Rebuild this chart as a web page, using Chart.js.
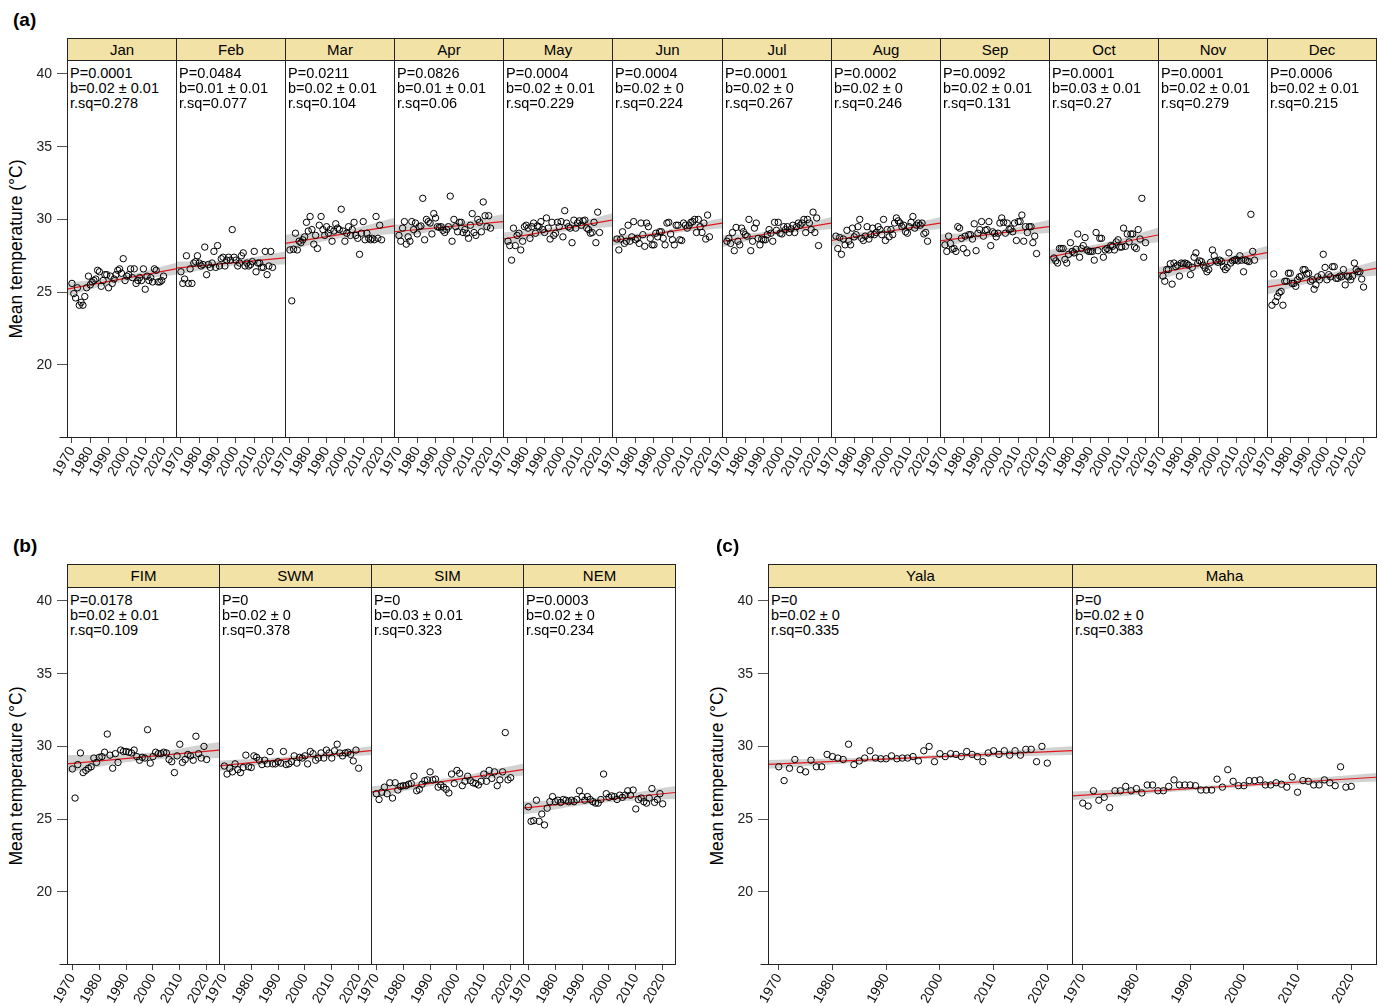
<!DOCTYPE html>
<html lang="en">
<head>
<meta charset="UTF-8">
<title>Mean temperature trends</title>
<script src="https://cdn.jsdelivr.net/npm/chart.js"></script>
<style>
  body { margin: 0; width: 1384px; height: 1006px; overflow: hidden; background: #fff;
         position: relative; font-family: Arial, "Liberation Sans", sans-serif; color: #000; }
  .strip { position: absolute; box-sizing: border-box; background: #f2e2a6; border: 1px solid #222;
           text-align: center; font-size: 15px; }
  .stats { position: absolute; font-size: 14.5px; line-height: 15px; white-space: nowrap; }
  .letter { position: absolute; font-size: 19px; font-weight: bold; line-height: 20px; }
  .ytitle { position: absolute; font-size: 17.5px; white-space: nowrap;
            transform: translate(-50%, -50%) rotate(-90deg); }
  .panel { position: absolute; }
</style>
</head>
<body>
<script>
// years of record and axis ticks
const years = [1970, 1971, 1972, 1973, 1974, 1975, 1976, 1977, 1978, 1979,
               1980, 1981, 1982, 1983, 1984, 1985, 1986, 1987, 1988, 1989,
               1990, 1991, 1992, 1993, 1994, 1995, 1996, 1997, 1998, 1999,
               2000, 2001, 2002, 2003, 2004, 2005, 2006, 2007, 2008, 2009,
               2010, 2011, 2012, 2013, 2014, 2015, 2016, 2017, 2018, 2019, 2020];
const yearTicks = [1970, 1980, 1990, 2000, 2010, 2020];
const tempTicks = [20, 25, 30, 35, 40];

// monthly mean temperature (°C)
const janTemp = [25.6, 24.9, 24.6, 25.3, 24.1, 24.3, 24.1, 24.7, 25.3, 26.1, 25.5, 25.7, 25.8, 25.9, 26.5, 26.4, 25.4, 25.8, 26.2, 26.2, 25.3, 26.1, 25.6, 25.9, 26.2, 26.5, 26.6, 26.3, 27.3, 25.8, 26.1, 26.2, 26.6, 26.0, 26.6, 25.6, 25.8, 26.0, 25.8, 26.6, 25.2, 26.1, 25.8, 26.0, 25.7, 26.6, 26.5, 25.7, 25.7, 25.8, 26.1];
const febTemp = [26.4, 25.6, 25.9, 27.5, 25.6, 26.6, 25.6, 27.0, 27.1, 27.5, 27.0, 26.8, 26.9, 28.1, 26.2, 26.9, 26.7, 27.0, 27.8, 26.7, 28.2, 26.8, 27.3, 27.4, 26.8, 27.2, 27.4, 27.2, 29.3, 27.4, 27.2, 26.8, 27.0, 27.5, 27.7, 26.8, 27.0, 26.8, 26.9, 27.1, 27.8, 26.4, 27.0, 27.0, 26.7, 26.7, 27.8, 26.2, 26.8, 27.8, 26.7];
const marTemp = [27.9, 24.4, 27.95, 29.05, 27.9, 28.5, 28.4, 28.6, 28.8, 29.8, 29.2, 30.2, 29.3, 28.3, 28.9, 28.0, 29.6, 30.2, 29.3, 28.9, 29.5, 29.05, 29.3, 28.5, 29.2, 29.7, 29.4, 29.3, 30.7, 29.2, 28.5, 29.05, 29.5, 28.9, 29.3, 29.8, 28.9, 28.7, 27.6, 29.05, 29.85, 28.6, 29.05, 28.7, 28.6, 28.7, 28.6, 30.2, 28.7, 29.6, 28.6];
const aprTemp = [28.9, 28.5, 29.4, 29.85, 28.3, 28.8, 28.5, 29.85, 29.3, 29.75, 29.0, 29.5, 29.55, 31.45, 28.6, 30.0, 29.85, 29.75, 29.0, 30.4, 30.1, 29.5, 29.45, 29.5, 29.25, 29.1, 29.3, 29.5, 31.6, 28.5, 30.0, 29.5, 29.15, 29.8, 29.8, 29.1, 29.3, 29.05, 28.7, 29.6, 30.4, 29.1, 28.9, 30.0, 29.8, 29.15, 31.2, 30.25, 29.5, 30.25, 29.4];
const mayTemp = [28.5, 28.2, 27.2, 29.4, 28.2, 28.9, 29.05, 27.9, 28.5, 29.5, 29.6, 29.4, 28.7, 29.5, 29.75, 29.05, 29.55, 29.5, 29.85, 29.3, 29.1, 30.1, 29.4, 28.65, 29.8, 28.9, 29.05, 29.8, 29.5, 29.85, 28.8, 30.6, 29.75, 29.5, 29.4, 28.4, 29.95, 29.4, 29.75, 29.9, 29.6, 29.9, 29.95, 29.4, 29.3, 29.05, 29.1, 29.8, 28.4, 30.5, 29.1];
const junTemp = [28.65, 27.9, 28.65, 29.15, 28.35, 28.5, 29.6, 28.5, 28.8, 29.85, 28.6, 28.7, 28.35, 29.75, 28.95, 28.15, 29.75, 29.5, 28.7, 28.25, 28.25, 29.05, 28.8, 29.15, 29.15, 28.7, 28.25, 29.75, 29.8, 29.0, 28.6, 28.25, 29.6, 29.6, 28.6, 28.55, 29.75, 29.6, 29.4, 29.6, 29.8, 29.85, 30.0, 29.1, 30.0, 29.5, 29.1, 29.75, 28.65, 30.3, 28.8];
const julTemp = [28.5, 28.7, 28.35, 29.1, 27.85, 29.45, 28.5, 28.25, 29.4, 29.15, 28.95, 28.85, 30.0, 27.85, 28.5, 29.4, 29.75, 28.7, 28.25, 28.65, 28.6, 28.6, 28.95, 29.3, 29.05, 28.5, 29.8, 29.25, 29.8, 29.05, 29.0, 29.5, 29.3, 29.5, 29.1, 29.35, 29.6, 29.1, 29.5, 29.75, 29.6, 29.75, 30.0, 29.1, 30.0, 29.75, 29.3, 30.5, 29.1, 30.1, 28.2];
const augTemp = [28.85, 28.0, 28.75, 27.6, 28.65, 28.25, 29.25, 28.5, 28.25, 29.4, 28.8, 28.95, 29.5, 30.0, 28.7, 28.55, 28.85, 29.5, 28.65, 28.95, 29.4, 28.95, 29.1, 29.5, 29.3, 28.95, 30.0, 28.55, 29.3, 28.8, 29.3, 28.95, 29.75, 30.1, 29.9, 29.75, 29.5, 29.6, 29.15, 29.05, 29.5, 29.8, 30.2, 29.4, 29.6, 29.75, 29.6, 29.75, 29.0, 29.1, 28.5];
const sepTemp = [28.25, 27.8, 28.85, 28.35, 27.95, 28.0, 27.8, 29.5, 29.4, 28.7, 28.0, 28.85, 27.7, 28.95, 28.95, 28.65, 29.7, 27.85, 29.05, 29.3, 29.85, 28.85, 29.25, 29.3, 29.85, 28.2, 29.15, 29.05, 28.8, 29.05, 29.75, 30.1, 29.8, 29.05, 29.75, 29.3, 29.35, 29.15, 29.75, 28.55, 29.85, 29.85, 30.3, 28.5, 29.5, 29.1, 29.5, 29.5, 28.4, 28.85, 27.65];
const octTemp = [27.35, 27.15, 27.0, 28.0, 28.0, 28.0, 27.25, 27.0, 27.6, 28.4, 27.8, 27.7, 27.95, 29.0, 27.4, 28.0, 28.2, 28.75, 27.9, 27.8, 27.8, 27.8, 27.2, 29.1, 27.85, 28.7, 28.7, 27.4, 27.9, 28.0, 27.9, 28.2, 28.15, 27.9, 28.45, 28.6, 28.1, 28.1, 29.4, 28.15, 29.0, 28.45, 29.0, 29.0, 28.1, 28.0, 29.3, 28.65, 31.45, 27.4, 28.4];
const novTemp = [26.1, 25.75, 26.55, 26.55, 26.95, 25.55, 27.0, 26.75, 26.85, 26.1, 27.0, 26.95, 27.0, 26.95, 26.85, 26.2, 26.7, 27.4, 27.7, 27.0, 27.15, 27.1, 26.85, 26.65, 26.4, 26.55, 27.05, 27.9, 27.5, 27.15, 27.05, 27.2, 27.1, 26.75, 26.55, 26.7, 27.7, 27.0, 27.15, 27.2, 27.25, 27.15, 27.5, 27.2, 26.4, 27.2, 27.15, 27.1, 30.35, 27.8, 27.2];
const decTemp = [24.1, 26.25, 24.35, 24.7, 24.95, 25.05, 24.1, 25.75, 25.75, 26.3, 26.3, 25.6, 25.6, 25.4, 25.85, 26.05, 26.1, 26.55, 26.55, 26.25, 26.3, 25.75, 25.85, 25.2, 25.5, 26.05, 25.85, 26.2, 27.6, 26.7, 25.85, 26.2, 26.05, 26.75, 26.75, 25.95, 25.95, 26.1, 26.05, 26.55, 25.5, 26.1, 26.05, 25.85, 26.1, 27.0, 26.55, 26.4, 26.4, 25.9, 25.35];

// monsoon seasons
const fimTemp = [28.45, 26.45, 28.75, 29.55, 28.2, 28.35, 28.5, 28.6, 29.2, 28.9, 29.25, 29.3, 29.6, 30.85, 29.4, 28.5, 29.5, 28.9, 29.75, 29.65, 29.65, 29.6, 29.55, 29.75, 29.3, 29.05, 29.25, 29.2, 31.15, 28.85, 29.3, 29.6, 29.5, 29.5, 29.6, 29.55, 29.1, 28.95, 28.2, 29.35, 30.15, 28.9, 29.1, 29.45, 29.35, 29.05, 30.7, 29.5, 29.2, 30.0, 29.1];
const swmTemp = [28.65, 28.1, 28.5, 28.25, 28.8, 28.4, 28.2, 28.55, 29.4, 28.6, 28.55, 29.35, 29.25, 29.05, 28.75, 29.05, 28.8, 29.65, 28.8, 28.8, 28.95, 28.85, 29.65, 28.75, 28.8, 28.95, 29.35, 28.85, 29.25, 29.2, 29.35, 28.8, 29.65, 29.5, 29.05, 29.2, 29.55, 29.2, 29.75, 29.55, 29.2, 29.7, 30.15, 29.55, 29.35, 29.55, 29.6, 29.45, 29.0, 29.75, 28.5];
const simTemp = [26.75, 26.35, 26.85, 27.2, 26.75, 27.5, 26.45, 27.5, 27.0, 27.25, 27.3, 27.3, 27.4, 27.45, 27.95, 26.95, 27.05, 27.4, 27.65, 27.7, 28.25, 27.7, 27.75, 27.2, 27.35, 27.2, 27.05, 26.8, 28.1, 27.45, 28.35, 28.15, 27.3, 27.6, 27.95, 27.65, 27.5, 27.45, 27.35, 27.6, 28.1, 27.6, 28.35, 27.8, 28.25, 27.3, 27.7, 28.25, 30.95, 27.7, 27.85];
const nemTemp = [25.85, 24.85, 24.9, 26.3, 24.85, 25.35, 24.6, 25.75, 26.2, 26.55, 26.2, 26.3, 26.15, 26.35, 26.3, 26.2, 26.3, 26.2, 26.35, 26.95, 26.55, 26.3, 26.55, 26.35, 26.2, 26.1, 26.1, 26.35, 28.1, 26.75, 26.5, 26.6, 26.55, 26.35, 26.65, 26.5, 26.65, 26.95, 26.65, 27.0, 25.7, 26.35, 26.45, 26.2, 26.1, 26.45, 27.1, 26.15, 26.35, 26.75, 26.05];

// cultivation seasons
const yalaTemp = [28.6, 27.65, 28.5, 29.1, 28.4, 28.25, 29.05, 28.6, 28.6, 29.45, 29.3, 29.2, 29.1, 30.15, 28.75, 29.0, 29.2, 29.7, 29.2, 29.15, 29.15, 29.35, 29.15, 29.2, 29.2, 29.3, 29.0, 29.7, 30.0, 28.95, 29.5, 29.3, 29.5, 29.45, 29.3, 29.65, 29.45, 29.3, 28.95, 29.55, 29.7, 29.45, 29.7, 29.4, 29.7, 29.4, 29.8, 29.8, 28.95, 30.0, 28.85];
const mahaTemp = [26.1, 25.9, 26.95, 26.3, 26.5, 25.8, 26.95, 26.95, 27.25, 26.95, 27.1, 26.8, 27.35, 27.35, 26.95, 26.95, 27.25, 27.7, 27.35, 27.35, 27.35, 27.3, 27.0, 27.0, 27.0, 27.75, 27.2, 28.4, 27.6, 27.3, 27.3, 27.65, 27.65, 27.7, 27.35, 27.35, 27.5, 27.4, 27.2, 27.9, 26.85, 27.65, 27.6, 27.35, 27.35, 27.7, 27.5, 27.3, 28.6, 27.2, 27.25];

// panel names and regression summaries
const monthNames = ['Jan', 'Feb', 'Mar', 'Apr', 'May', 'Jun', 'Jul', 'Aug', 'Sep', 'Oct', 'Nov', 'Dec'];
const monthP = ['0.0001', '0.0484', '0.0211', '0.0826', '0.0004', '0.0004', '0.0001', '0.0002', '0.0092', '0.0001', '0.0001', '0.0006'];
const monthB = ['0.02', '0.01', '0.02', '0.01', '0.02', '0.02', '0.02', '0.02', '0.02', '0.03', '0.02', '0.02'];
const monthBse = ['0.01', '0.01', '0.01', '0.01', '0.01', '0', '0', '0', '0.01', '0.01', '0.01', '0.01'];
const monthRsq = ['0.278', '0.077', '0.104', '0.06', '0.229', '0.224', '0.267', '0.246', '0.131', '0.27', '0.279', '0.215'];
// fitted value at the left and right edge of each panel, and CI half width (left, centre, right)
const monthFitStart = [25.2, 26.65, 28.35, 29.15, 28.65, 28.52, 28.48, 28.55, 28.52, 27.4, 26.3, 25.34];
const monthFitEnd = [26.6, 27.35, 29.55, 29.85, 29.95, 29.74, 29.74, 29.74, 29.51, 28.93, 27.72, 26.64];
const monthBand = [[0.45, 0.2, 0.4], [0.45, 0.2, 0.45], [0.6, 0.25, 0.55], [0.5, 0.2, 0.5],
                   [0.45, 0.2, 0.45], [0.35, 0.15, 0.35], [0.4, 0.17, 0.4], [0.4, 0.17, 0.4],
                   [0.45, 0.2, 0.45], [0.5, 0.22, 0.5], [0.45, 0.2, 0.45], [0.5, 0.22, 0.5]];

const seasonNames = ['FIM', 'SWM', 'SIM', 'NEM'];
const seasonP = ['0.0178', '0', '0', '0.0003'];
const seasonB = ['0.02', '0.02', '0.03', '0.02'];
const seasonBse = ['0.01', '0', '0.01', '0'];
const seasonRsq = ['0.109', '0.378', '0.323', '0.234'];
const seasonFitStart = [28.8, 28.66, 26.85, 25.75];
const seasonFitEnd = [29.75, 29.71, 28.4, 26.83];
const seasonBand = [[0.6, 0.25, 0.55], [0.35, 0.15, 0.3], [0.4, 0.18, 0.4], [0.45, 0.2, 0.45]];

const cropNames = ['Yala', 'Maha'];
const cropP = ['0', '0'];
const cropB = ['0.02', '0.02'];
const cropBse = ['0', '0'];
const cropRsq = ['0.335', '0.383'];
const cropFitStart = [28.77, 26.6];
const cropFitEnd = [29.71, 27.88];
const cropBand = [[0.3, 0.12, 0.3], [0.3, 0.12, 0.3]];

// box around each plot region, plus the short stub of the x axis line left of the first panel
const framePlugin = {
  id: 'frame',
  afterDraw(chart, args, opts) {
    const { ctx, chartArea: a } = chart;
    ctx.save();
    ctx.strokeStyle = '#222';
    ctx.lineWidth = 1;
    const l = Math.round(a.left) + 0.5, t = Math.round(a.top) + 0.5;
    const w = Math.round(a.right) - Math.round(a.left), h = Math.round(a.bottom) - Math.round(a.top);
    ctx.strokeRect(l, t, w, h);
    if (opts.stub) {
      ctx.beginPath();
      ctx.moveTo(l - opts.stub, t + h);
      ctx.lineTo(l, t + h);
      ctx.stroke();
    }
    ctx.restore();
  }
};

function addDiv(cls, left, top, html, extra) {
  const d = document.createElement('div');
  d.className = cls;
  d.style.left = left + 'px';
  d.style.top = top + 'px';
  d.innerHTML = html;
  if (extra) Object.assign(d.style, extra);
  document.body.appendChild(d);
  return d;
}

const Y_AXIS_W = 67, X_AXIS_H = 52, PAD_L = 30, PAD_R = 2, PAD_T = 2;

function drawGroup(g) {
  const n = g.names.length;
  const step = (g.right - g.left) / n;
  const plotH = g.plotBottom - g.plotTop;
  const xMid = (g.xMin + g.xMax) / 2;

  addDiv('letter', g.letterX, g.stripTop - 28, g.letter);
  addDiv('ytitle', g.left - 51, (g.plotTop + g.plotBottom) / 2, 'Mean temperature (°C)');

  for (let i = 0; i < n; i++) {
    const x0 = Math.round(g.left + i * step);
    const x1 = Math.round(g.left + (i + 1) * step);
    const w = x1 - x0;
    const first = i === 0;

    addDiv('strip', x0, g.stripTop, g.names[i], {
      width: (w + 1) + 'px', height: (g.plotTop - g.stripTop + 1) + 'px',
      lineHeight: (g.plotTop - g.stripTop - 1) + 'px'
    });
    addDiv('stats', x0 + 3, g.statsTop,
      'P=' + g.p[i] + '<br>b=' + g.b[i] + ' ± ' + g.bse[i] + '<br>r.sq=' + g.rsq[i]);

    const leftSpace = first ? Y_AXIS_W : PAD_L;
    const cw = leftSpace + w + PAD_R;
    const ch = PAD_T + plotH + X_AXIS_H;
    const holder = document.createElement('div');
    holder.className = 'panel';
    holder.style.left = (x0 - leftSpace) + 'px';
    holder.style.top = (g.plotTop - PAD_T) + 'px';
    holder.style.width = cw + 'px';
    holder.style.height = ch + 'px';
    const canvas = document.createElement('canvas');
    canvas.width = cw;
    canvas.height = ch;
    holder.appendChild(canvas);
    document.body.appendChild(holder);

    const vals = g.temps[i];
    const fs = g.fitStart[i], fe = g.fitEnd[i], band = g.band[i];
    const fm = (fs + fe) / 2;

    new Chart(canvas, {
      data: {
        datasets: [
          {
            type: 'scatter',
            data: years.map((yr, k) => ({ x: yr, y: vals[k] })),
            pointRadius: 3.2,
            pointBorderWidth: 1,
            pointBorderColor: '#000',
            pointBackgroundColor: 'rgba(0,0,0,0)'
          },
          {
            type: 'line',
            data: [{ x: g.xMin, y: fs }, { x: g.xMax, y: fe }],
            borderColor: '#e4161b',
            borderWidth: 1.2,
            pointRadius: 0
          },
          {
            type: 'line',
            data: [{ x: g.xMin, y: fs + band[0] }, { x: xMid, y: fm + band[1] }, { x: g.xMax, y: fe + band[2] }],
            borderWidth: 0,
            pointRadius: 0,
            tension: 0.45,
            fill: '+1',
            backgroundColor: '#d2d2d2'
          },
          {
            type: 'line',
            data: [{ x: g.xMin, y: fs - band[0] }, { x: xMid, y: fm - band[1] }, { x: g.xMax, y: fe - band[2] }],
            borderWidth: 0,
            pointRadius: 0,
            tension: 0.45,
            fill: false
          }
        ]
      },
      options: {
        responsive: false,
        animation: false,
        events: [],
        layout: { autoPadding: false, padding: { left: first ? 0 : PAD_L, right: PAD_R, top: PAD_T, bottom: 0 } },
        plugins: {
          legend: { display: false },
          tooltip: { enabled: false },
          frame: { stub: first ? 8 : 0 }
        },
        scales: {
          x: {
            type: 'linear',
            min: g.xMin,
            max: g.xMax,
            afterBuildTicks: s => { s.ticks = yearTicks.map(v => ({ value: v })); },
            afterFit: s => { s.height = X_AXIS_H; s.paddingLeft = 0; s.paddingRight = 0; },
            border: { display: false },
            grid: { display: true, drawOnChartArea: false, drawTicks: true, tickLength: 6, color: '#444' },
            ticks: {
              autoSkip: false, minRotation: 60, maxRotation: 60, padding: 1,
              callback: v => String(v),
              color: '#111', font: { family: 'Arial, "Liberation Sans", sans-serif', size: 14 }
            }
          },
          y: {
            type: 'linear',
            display: first,
            min: 15.04,
            max: 40.96,
            afterBuildTicks: s => { s.ticks = tempTicks.map(v => ({ value: v })); },
            afterFit: s => { s.width = first ? Y_AXIS_W : 0; s.paddingTop = 0; s.paddingBottom = 0; },
            border: { display: false },
            grid: { display: true, drawOnChartArea: false, drawTicks: true, tickLength: 10, color: '#555' },
            ticks: {
              padding: 5, color: '#222',
              font: { family: 'Arial, "Liberation Sans", sans-serif', size: 14 }
            }
          }
        }
      },
      plugins: [framePlugin]
    });
  }
}

drawGroup({
  letter: '(a)', letterX: 13, names: monthNames,
  temps: [janTemp, febTemp, marTemp, aprTemp, mayTemp, junTemp, julTemp, augTemp, sepTemp, octTemp, novTemp, decTemp],
  p: monthP, b: monthB, bse: monthBse, rsq: monthRsq,
  fitStart: monthFitStart, fitEnd: monthFitEnd, band: monthBand,
  left: 67, right: 1376, stripTop: 38, plotTop: 60, plotBottom: 437, statsTop: 66,
  xMin: 1967.3, xMax: 2026.8
});

drawGroup({
  letter: '(b)', letterX: 13, names: seasonNames,
  temps: [fimTemp, swmTemp, simTemp, nemTemp],
  p: seasonP, b: seasonB, bse: seasonBse, rsq: seasonRsq,
  fitStart: seasonFitStart, fitEnd: seasonFitEnd, band: seasonBand,
  left: 67, right: 675, stripTop: 564, plotTop: 587, plotBottom: 964, statsTop: 593,
  xMin: 1968.0, xMax: 2024.6
});

drawGroup({
  letter: '(c)', letterX: 716, names: cropNames,
  temps: [yalaTemp, mahaTemp],
  p: cropP, b: cropB, bse: cropBse, rsq: cropRsq,
  fitStart: cropFitStart, fitEnd: cropFitEnd, band: cropBand,
  left: 768, right: 1376, stripTop: 564, plotTop: 587, plotBottom: 964, statsTop: 593,
  xMin: 1968.0, xMax: 2024.6
});
</script>
</body>
</html>
